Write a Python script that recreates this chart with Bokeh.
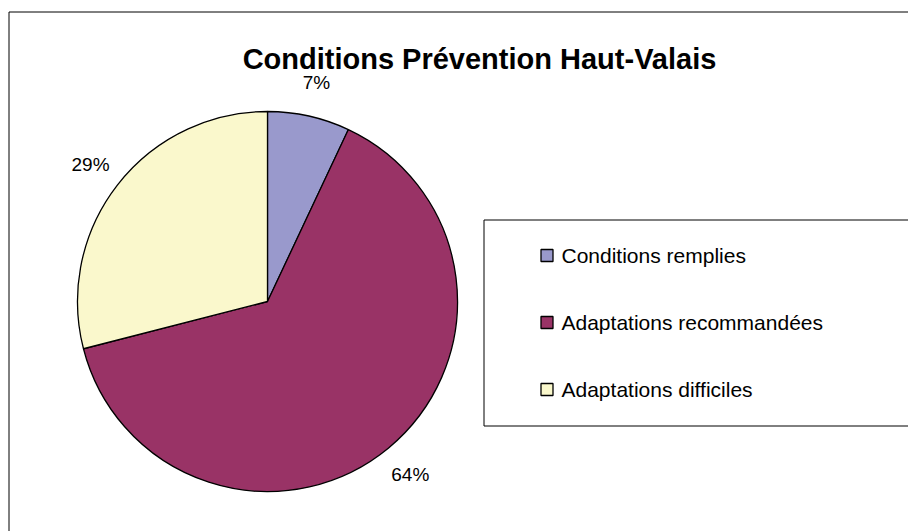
import math
from bokeh.plotting import figure
from bokeh.models import Range1d, ColumnDataSource
from bokeh.core.properties import value
from bokeh.embed import file_html
from bokeh.resources import INLINE

# ---- data ----
title_text = "Conditions Prévention Haut-Valais"
categories = ["Conditions remplies", "Adaptations recommandées", "Adaptations difficiles"]
values = [7, 64, 29]
colors = ["#9999CC", "#993366", "#FAF8CC"]

# ---- canvas (1 data unit = 1 px) ----
W, H = 908, 531
FONT = value("Liberation Sans")


def px(x):
    return x


def py(y):
    return H - y


p = figure(width=W, height=H, output_backend="svg", toolbar_location=None,
           x_range=Range1d(0, W), y_range=Range1d(0, H), min_border=0,
           x_axis_location=None, y_axis_location=None)
p.grid.visible = False
p.outline_line_color = None
p.background_fill_color = "white"
p.border_fill_color = "white"

# outer chart frame (left and top edges visible)
p.line(x=[px(8.5), px(8.5), W + 20], y=[-20, py(11.5), py(11.5)],
       line_color="black", line_width=1)

# ---- pie ----
cx, cy, R = px(267), py(301), 190
total = float(sum(values))
starts, ends, mids = [], [], []
cum = 0.0
for v in values:
    f0 = cum / total
    cum += v
    f1 = cum / total
    a0 = math.pi / 2 - 2 * math.pi * f0
    a1 = math.pi / 2 - 2 * math.pi * f1
    starts.append(a1)
    ends.append(a0)
    mids.append((a0 + a1) / 2)

src = ColumnDataSource(dict(start=starts, end=ends, color=colors))
p.wedge(x=cx, y=cy, radius=R, start_angle="start", end_angle="end",
        direction="anticlock", fill_color="color", line_color="black",
        line_width=1.3, source=src)

LR = 224
lab_src = ColumnDataSource(dict(
    x=[cx + LR * math.cos(m) for m in mids],
    y=[cy + LR * math.sin(m) for m in mids],
    t=["%d%%" % round(v / total * 100) for v in values],
))
p.text(x="x", y="y", text="t", source=lab_src, text_align="center",
       text_baseline="middle", text_font=FONT, text_font_size="19px",
       text_color="black")

# ---- title ----
p.text(x=[px(479)], y=[py(58)], text=[title_text], text_align="center",
       text_baseline="alphabetic", text_font=FONT, text_font_size="29px",
       text_font_style="bold", text_color="black")

# ---- legend ----
p.quad(left=px(483.5), right=W + 20, top=py(219.5), bottom=py(425.5),
       fill_color="white", line_color="black", line_width=1)
row_gap = 67
leg_center = py(322)
n = len(categories)
rows = [leg_center + ((n - 1) / 2 - i) * row_gap for i in range(n)]
leg_src = ColumnDataSource(dict(y=rows, name=categories, color=colors))
p.scatter(x=px(546.5), y="y", marker="square", size=12, fill_color="color",
          line_color="black", line_width=1.3, source=leg_src)
p.text(x=px(561), y="y", text="name", source=leg_src, text_align="left",
       text_baseline="middle", text_font=FONT, text_font_size="21px",
       text_color="black")

open("out.html", "w").write(file_html(p, INLINE))
